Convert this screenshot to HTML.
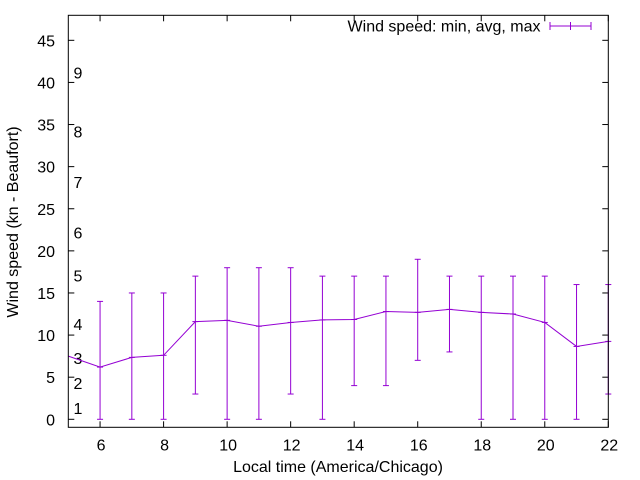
<!DOCTYPE html>
<html><head><meta charset="utf-8"><style>
body{margin:0;background:#fff}
svg{display:block;font-family:"Liberation Sans",sans-serif;font-size:16px}
</style></head><body>
<svg id="chart" width="640" height="480" viewBox="0 0 640 480" xmlns="http://www.w3.org/2000/svg">
<rect x="0" y="0" width="640" height="480" fill="#fff"/>
<g id="axes"></g>
<g id="series"></g>
<rect x="68.3" y="15.3" width="540" height="412" fill="none" stroke="#000" stroke-width="1"/>
<text transform="translate(18,222) rotate(-90)" text-anchor="middle" font-size="16">Wind speed (kn - Beaufort)</text>
<text x="338" y="472" text-anchor="middle" font-size="16">Local time (America/Chicago)</text>
<g>
<text x="540.5" y="31.5" text-anchor="end" font-size="16">Wind speed: min, avg, max</text>
<line x1="550" y1="26" x2="591" y2="26" stroke="#9400d3"/>
<line x1="550" y1="22" x2="550" y2="30" stroke="#9400d3"/>
<line x1="591" y1="22" x2="591" y2="30" stroke="#9400d3"/>
<line x1="570.5" y1="22" x2="570.5" y2="30" stroke="#9400d3"/>
</g>
</svg>
<script>
const hours=[5,6,7,8,9,10,11,12,13,14,15,16,17,18,19,20,21,22];
const avgSpeed=[7.5,6.2,7.35,7.6,11.6,11.75,11.05,11.5,11.8,11.85,12.8,12.7,13.05,12.7,12.5,11.5,8.65,9.25];
const minSpeed=[null,0,0,0,3,0,0,3,0,4,4,7,8,0,0,0,0,3];
const maxSpeed=[null,14,15,15,17,18,18,18,17,17,17,19,17,17,17,17,16,16];
const xTicks=[6,8,10,12,14,16,18,20,22];
const yTicks=[0,5,10,15,20,25,30,35,40,45];
const beaufortLabels=["1","2","3","4","5","6","7","8","9"];
const beaufortPos=[1.35,4.3,7.3,11.3,17.1,22.2,28.2,34.2,41.2];

const X0=68.3,X1=608.3,Y0=427.3,Y1=15.3,xmin=5,xmax=22,ymin=-0.95,ymax=47.97;
const sx=v=>X0+(v-xmin)/(xmax-xmin)*(X1-X0);
const sy=v=>Y0-(v-ymin)/(ymax-ymin)*(Y0-Y1);
const NS="http://www.w3.org/2000/svg";
function mk(tag,attrs,parent){const e=document.createElementNS(NS,tag);for(const k in attrs)e.setAttribute(k,attrs[k]);parent.appendChild(e);return e;}
const axes=document.getElementById('axes'),series=document.getElementById('series');

xTicks.forEach(t=>{
  const x=sx(t);
  const l1=mk('line',{x1:x,y1:Y0,x2:x,y2:Y0-6,stroke:'#000'},axes);
  
  
  const l2=mk('line',{x1:x,y1:Y1,x2:x,y2:Y1+6,stroke:'#000'},axes);
  
  
  const tx=mk('text',{x:x+1,y:450.5,'text-anchor':'middle','font-size':'16'},axes);
  tx.textContent=t;
  
  
});
yTicks.forEach(t=>{
  const y=sy(t);
  const l1=mk('line',{x1:X0,y1:y,x2:X0+6,y2:y,stroke:'#000'},axes);
  
  
  const l2=mk('line',{x1:X1,y1:y,x2:X1-6,y2:y,stroke:'#000'},axes);
  
  
  const tx=mk('text',{x:55,y:y+6,'text-anchor':'end','font-size':'16'},axes);
  tx.textContent=t;
  
  
});
beaufortLabels.forEach((b,i)=>{
  const tx=mk('text',{x:73.5,y:sy(beaufortPos[i])+6,'font-size':'16'},axes);
  tx.textContent=b;
  
  
});

const pts=hours.map((h,i)=>sx(h)+','+sy(avgSpeed[i])).join(' ');
const pl=mk('polyline',{points:pts,fill:'none',stroke:'#9400d3','stroke-width':'1'},series);


hours.forEach((h,i)=>{
  if(minSpeed[i]===null)return;
  const x=sx(h),ya=sy(minSpeed[i]),yb=sy(maxSpeed[i]);
  const g=mk('g',{stroke:'#9400d3','stroke-width':'1'},series);
  
  
  mk('line',{x1:x,y1:ya,x2:x,y2:yb},g);
  mk('line',{x1:x-3,y1:ya,x2:x+3,y2:ya},g);
  mk('line',{x1:x-3,y1:yb,x2:x+3,y2:yb},g);
  mk('line',{x1:x-3,y1:sy(avgSpeed[i]),x2:x+3,y2:sy(avgSpeed[i])},g);
});
</script>
</body></html>
